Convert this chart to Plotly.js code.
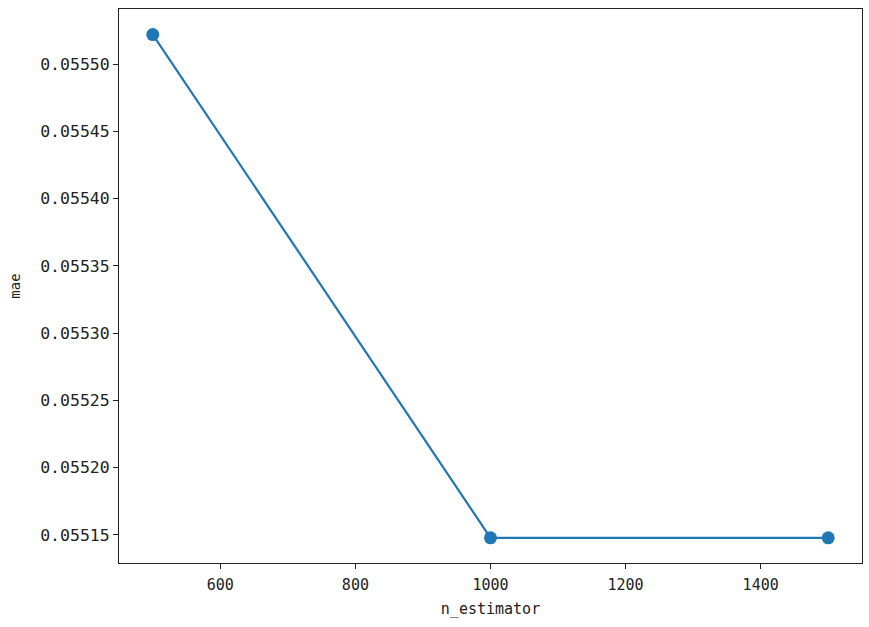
<!DOCTYPE html>
<html>
<head>
<meta charset="utf-8">
<script src="https://cdn.plot.ly/plotly-3.0.1.min.js"></script>
<style>html,body{margin:0;padding:0;background:#fff;}#chart{width:869px;height:627px;}</style>
</head>
<body>
<div id="chart"></div>
<script>
const nEstimator = [500, 1000, 1500];
const mae = [0.055522, 0.0551478, 0.0551478];
const xTicks = [600, 800, 1000, 1200, 1400];
const yTicks = [0.05515, 0.05520, 0.05525, 0.05530, 0.05535, 0.05540, 0.05545, 0.05550];
const yTickText = ["0.05515", "0.05520", "0.05525", "0.05530", "0.05535", "0.05540", "0.05545", "0.05550"];

const font = "DejaVu Sans Mono, monospace";
const trace = {
  x: nEstimator, y: mae, type: 'scatter', mode: 'lines+markers',
  line: {color: '#1f77b4', width: 2.2},
  marker: {color: '#1f77b4', size: 13},
  cliponaxis: false
};
const layout = {
  width: 869, height: 627,
  margin: {l: 119, r: 7, t: 9, b: 64},
  paper_bgcolor: '#fff', plot_bgcolor: '#fff',
  showlegend: false,
  font: {family: font, size: 14, color: '#222'},
  xaxis: {
    range: [450, 1550], tickvals: xTicks, ticktext: xTicks.map(String),
    showgrid: false, zeroline: false, showline: true, linecolor: '#222', linewidth: 1, mirror: true,
    ticks: 'outside', ticklen: 5, tickcolor: '#222', tickwidth: 1,
    ticklabelstandoff: 3,
    tickfont: {family: font, size: 15, color: '#222'},
    title: {text: 'n_estimator', font: {family: font, size: 15, color: '#222'}, standoff: 10}
  },
  yaxis: {
    range: [0.0551291, 0.055541], tickvals: yTicks, ticktext: yTickText,
    showgrid: false, zeroline: false, showline: true, linecolor: '#222', linewidth: 1, mirror: true,
    ticks: 'outside', ticklen: 5, tickcolor: '#222', tickwidth: 1,
    tickfont: {family: font, size: 16.5, color: '#222'},
    title: {text: 'mae', font: {family: font, size: 14, color: '#222'}, standoff: 16}
  }
};
Plotly.newPlot('chart', [trace], layout, {displayModeBar: false, staticPlot: true});
</script>
</body>
</html>
